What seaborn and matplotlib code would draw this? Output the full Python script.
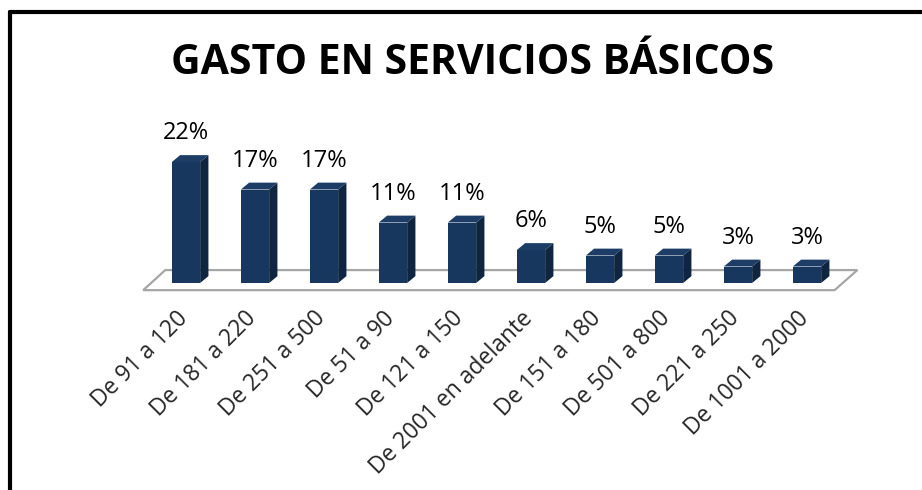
import matplotlib
matplotlib.use("Agg")
import matplotlib.pyplot as plt
from matplotlib.patches import Polygon
from matplotlib.lines import Line2D
from matplotlib.transforms import ScaledTranslation
import pandas as pd
import seaborn as sns

# data
categories = ['De 91 a 120', 'De 181 a 220', 'De 251 a 500', 'De 51 a 90',
              'De 121 a 150', 'De 2001 en adelante', 'De 151 a 180',
              'De 501 a 800', 'De 221 a 250', 'De 1001 a 2000']
percentages = [22, 17, 17, 11, 11, 6, 5, 5, 3, 3]
title = 'GASTO EN SERVICIOS BÁSICOS'

front_color = '#17375E'
side_color = '#0F2540'
top_color = '#1D3D66'

sns.set_style('white')
plt.rcParams['font.family'] = ['Open Sans', 'DejaVu Sans']

df = pd.DataFrame({'rango': categories, 'pct': percentages})

fig = plt.figure(figsize=(9.22, 4.90), dpi=100)
ax = fig.add_axes([151.5 / 922, (490 - 283) / 490, 690 / 922, 137.5 / 490])

sns.barplot(data=df, x='rango', y='pct', order=categories, color=front_color,
            width=0.41, saturation=1, linewidth=0, ax=ax, zorder=3)
ax.set_xlim(-0.5, len(categories) - 0.5)
ax.set_ylim(0, 25)

# fake 3d: depth offsets in data units
dx, dy = 0.12, 1.25

# floor
floor = Polygon([(-0.62, -1.3), (9.40, -1.3), (9.73, 2.35), (-0.30, 2.35)],
                closed=True, facecolor='white', edgecolor='#A6A6A6',
                linewidth=1.6, zorder=1, clip_on=False)
ax.add_patch(floor)

for bar in list(ax.patches):
    if bar is floor:
        continue
    x0 = bar.get_x()
    w = bar.get_width()
    h = bar.get_height()
    side = Polygon([(x0 + w, 0), (x0 + w + dx, dy), (x0 + w + dx, h + dy), (x0 + w, h)],
                   closed=True, facecolor=side_color, edgecolor='none', zorder=3,
                   clip_on=False)
    top = Polygon([(x0, h), (x0 + dx, h + dy), (x0 + w + dx, h + dy), (x0 + w, h)],
                  closed=True, facecolor=top_color, edgecolor='none', zorder=3,
                  clip_on=False)
    ax.add_patch(side)
    ax.add_patch(top)
    bar.set_clip_on(False)

ax.bar_label(ax.containers[0], labels=[f'{p}%' for p in percentages],
             padding=12, fontsize=17, color='black')

ax.set_xlabel('')
ax.set_ylabel('')
ax.set_yticks([])
ax.tick_params(axis='x', length=0, pad=23)
ax.set_xticklabels(categories, rotation=45, ha='right', va='center',
                   rotation_mode='anchor', fontsize=16.5)
shift = ScaledTranslation(-2 / 100, 0, fig.dpi_scale_trans)
for lbl in ax.get_xticklabels():
    lbl.set_transform(lbl.get_transform() + shift)
sns.despine(ax=ax, left=True, bottom=True)
ax.patch.set_visible(False)

fig.text(473 / 922, 1 - 64 / 490, title, ha='center', va='center',
         fontsize=29.5, fontweight='bold', color='black')

# outer frame: only left and top edges visible in the crop
fig.add_artist(Line2D([10 / 922, 10 / 922], [0, 1 - 12 / 490], color='black', linewidth=3))
fig.add_artist(Line2D([10 / 922, 1], [1 - 12 / 490, 1 - 12 / 490], color='black', linewidth=3))

fig.savefig('out.png', dpi=100)
